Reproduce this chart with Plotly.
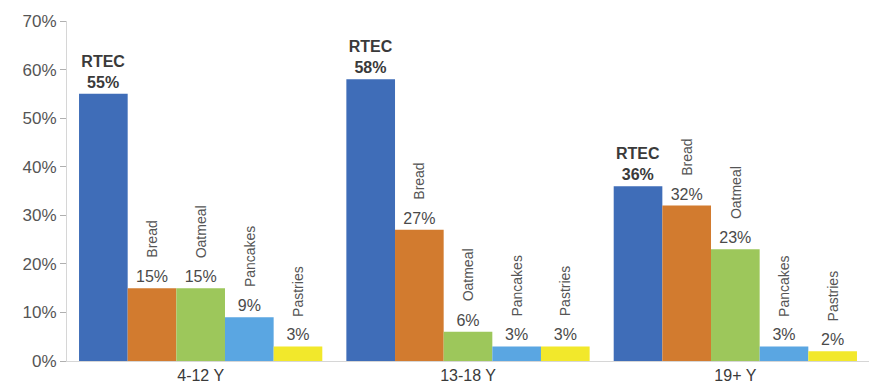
import plotly.graph_objects as go

groups = ["4-12 Y", "13-18 Y", "19+ Y"]
foods = ["RTEC", "Bread", "Oatmeal", "Pancakes", "Pastries"]
values = {
    "RTEC": [55, 58, 36],
    "Bread": [15, 27, 32],
    "Oatmeal": [15, 6, 23],
    "Pancakes": [9, 3, 3],
    "Pastries": [3, 3, 2],
}
colors = {
    "RTEC": "#3F6DB8",
    "Bread": "#D27B2F",
    "Oatmeal": "#9DC75B",
    "Pancakes": "#5AA6E2",
    "Pastries": "#F2E82B",
}
yticks = [0, 10, 20, 30, 40, 50, 60, 70]

FONT = "Liberation Sans, Arial, sans-serif"
BARGAP = 0.09

fig = go.Figure()
for f in foods:
    if f == "RTEC":
        txt = [f"<b>RTEC<br>{v}%</b>" for v in values[f]]
        tf = dict(size=16, color="#3a3a3a", family=FONT)
    else:
        txt = [f"{v}%" for v in values[f]]
        tf = dict(size=16, color="#4a4a4a", family=FONT)
    fig.add_trace(go.Bar(
        name=f, x=groups, y=values[f], marker_color=colors[f],
        marker_line_width=0, text=txt, textposition="outside",
        textfont=tf, cliponaxis=False, constraintext="none",
    ))

w = (1 - BARGAP) / len(foods)
annotations = []
for i, f in enumerate(foods):
    if f == "RTEC":
        continue
    for gi, v in enumerate(values[f]):
        annotations.append(dict(
            x=gi + (i - (len(foods) - 1) / 2) * w, y=v, xref="x", yref="y",
            text=f, textangle=-90, showarrow=False,
            xanchor="center", yanchor="bottom", yshift=28,
            font=dict(size=14, color="#555555", family=FONT),
        ))

fig.update_layout(
    width=876, height=388,
    margin=dict(l=67, r=7, t=21, b=27),
    paper_bgcolor="white", plot_bgcolor="white",
    barmode="group", bargap=BARGAP, bargroupgap=0,
    showlegend=False,
    annotations=annotations,
    font=dict(family=FONT, color="#4a4a4a"),
    xaxis=dict(
        showline=True, linecolor="#d6d6d6", linewidth=1,
        ticks="", tickfont=dict(size=16, color="#3a3a3a"),
        ticklabelstandoff=0, automargin=False,
        showgrid=False, zeroline=False,
    ),
    yaxis=dict(
        range=[0, 70], tickvals=yticks, ticktext=[f"{t}%" for t in yticks],
        showline=True, linecolor="#d6d6d6", linewidth=1,
        ticks="outside", ticklen=6, tickcolor="#b0b0b0",
        tickfont=dict(size=17, color="#555555"),
        showgrid=False, zeroline=False, automargin=False,
    ),
)

fig.write_html("out.html")
